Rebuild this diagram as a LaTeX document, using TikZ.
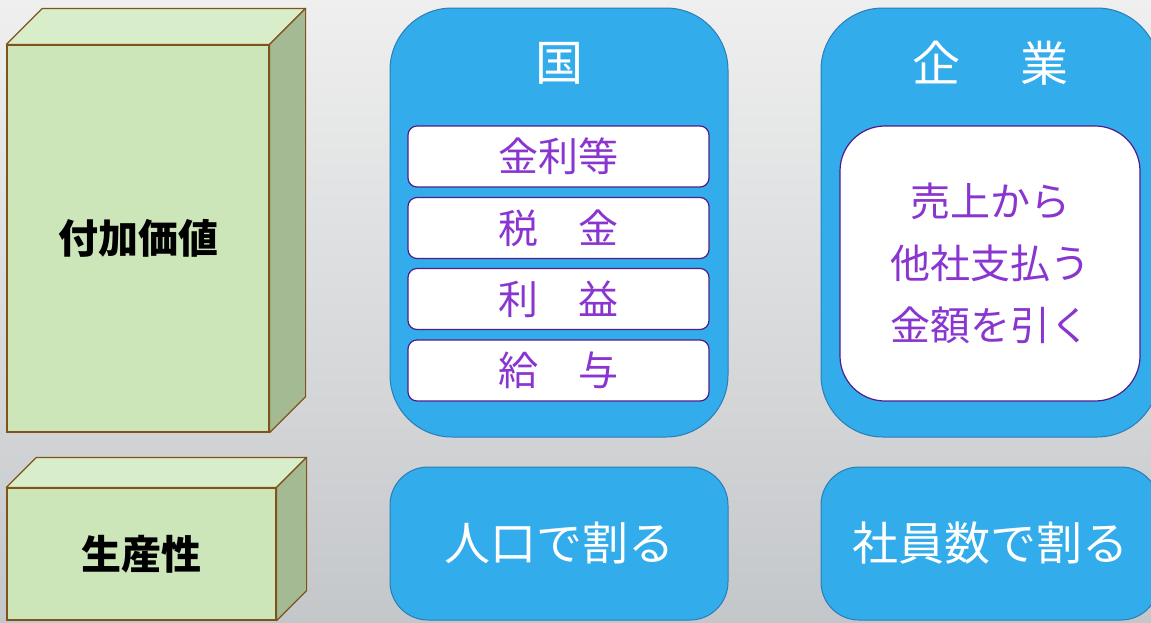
\documentclass[tikz,border=0pt]{standalone}
\usepackage{fontspec}
\setmainfont{Noto Sans CJK JP}
\usepackage{tikz}
\definecolor{bgtop}{HTML}{EFEFEF}
\definecolor{bgbottom}{HTML}{C4C7CA}
\definecolor{panelfill}{HTML}{32ACEA}
\definecolor{paneldraw}{HTML}{2B7DB8}
\definecolor{itemdraw}{HTML}{4E1E8C}
\definecolor{itemtext}{HTML}{8A35D0}
\definecolor{greenfront}{HTML}{CCE6BA}
\definecolor{greentop}{HTML}{D8EDC9}
\definecolor{greenside}{HTML}{A3BA93}
\definecolor{browndraw}{HTML}{80531A}
\tikzset{
  cubefront/.style={draw=browndraw, fill=greenfront, line width=1.2pt, inner sep=0pt,
    font=\fontsize{40}{48}\selectfont\bfseries},
  cubetop/.style={draw=browndraw, fill=greentop, line width=1.2pt, line join=round},
  cubeside/.style={draw=browndraw, fill=greenside, line width=1.2pt, line join=round},
  panel/.style={draw=paneldraw, fill=panelfill, line width=1pt, inner sep=0pt,
    minimum width=338pt, text=white, font=\fontsize{46}{54}\selectfont},
  title/.style={text=white, font=\fontsize{48}{56}\selectfont},
  item/.style={draw=itemdraw, fill=white, line width=1.2pt, rounded corners=9pt, inner sep=0pt,
    minimum width=301pt, minimum height=61pt, text=itemtext, font=\fontsize{40}{48}\selectfont},
}
\newcommand{\cubebox}[6]{\node at (#2) (#1) [cubefront, minimum width=#3pt, minimum height=#4pt] {#6};
  \draw [cubetop] (#1.north west) -- ++(#5,-#5) -- ([shift={(#5,-#5)}]#1.north east) -- (#1.north east) -- cycle;
  \draw [cubeside] (#1.north east) -- ++(#5,-#5) -- ([shift={(#5,-#5)}]#1.south east) -- (#1.south east) -- cycle;}
\newcommand{\itembox}[3]{\node at (#1) (#2) [item] {#3};}

\begin{document}
\begin{tikzpicture}[x=1pt,y=-1pt]
\useasboundingbox (0,0) rectangle (1151,622);
\clip (0,0) rectangle (1151,622);
\shade [top color=bgtop, bottom color=bgbottom] (0,0) rectangle (1151,622);

\cubebox {value} {138,238.5} {262} {387} {36} {付加価値};
\cubebox {prod} {141.5,554} {269} {132} {30} {生産性};

\node at (559,222.5) (country) [panel, minimum height=429pt, rounded corners=62pt] {};
\node at (990,222.5) (company) [panel, minimum height=429pt, rounded corners=62pt] {};
\node at (559,543.5) (percapita) [panel, minimum height=153pt, rounded corners=38pt] {人口で割る};
\node at (990,543.5) (peremployee) [panel, minimum height=153pt, rounded corners=38pt] {社員数で割る};

\node at (559,63) (countrytitle) [title] {国};
\node at (990,63) (companytitle) [title] {企\hspace{6pt}　\hspace{6pt}業};

\itembox {558.5,156.5} {interest} {金利等};
\itembox {558.5,228} {tax} {税　金};
\itembox {558.5,299} {profit} {利　益};
\itembox {558.5,370.5} {wage} {給　与};

\node at (990,263.5) (sales) [item, minimum width=300pt, minimum height=275pt, rounded corners=45pt,
  align=center, font=\fontsize{40}{62}\selectfont] {売上から\\他社支払う\\金額を引く};
\end{tikzpicture}
\end{document}
